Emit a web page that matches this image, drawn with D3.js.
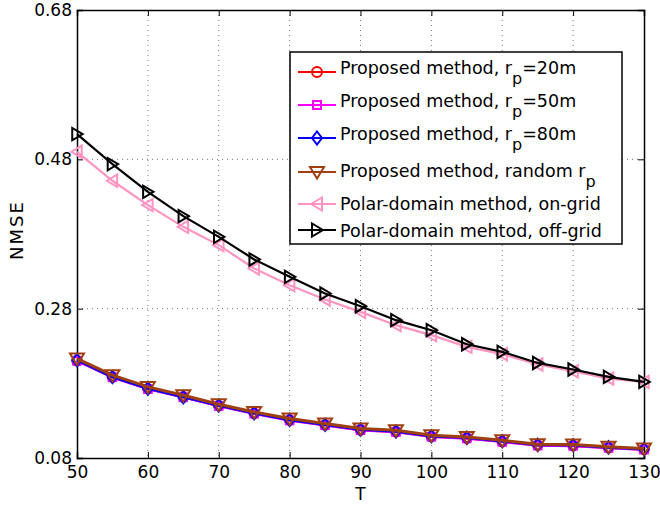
<!DOCTYPE html>
<html><head><meta charset="utf-8">
<script src="https://cdn.jsdelivr.net/npm/d3@7"></script>
<style>body{margin:0;background:#fff}svg{display:block;font-family:"DejaVu Sans",sans-serif}</style>
</head><body><svg id="c" width="660" height="505"></svg>
<script>
const T = [50,55,60,65,70,75,80,85,90,95,100,105,110,115,120,125,130];
const xTicks = [50,60,70,80,90,100,110,120,130];
const yTicks = [0.08,0.28,0.48,0.68];
const brownVals = [0.2132,0.1909,0.1752,0.1641,0.1520,0.1417,0.1328,0.1261,0.1194,0.1171,0.1104,0.1081,0.1037,0.0984,0.0980,0.0950,0.0927];
const redVals   = [0.2105,0.1885,0.1728,0.1618,0.1500,0.1398,0.1308,0.1243,0.1176,0.1152,0.1088,0.1066,0.1020,0.0970,0.0965,0.0938,0.0915];
const magVals   = [0.2100,0.1880,0.1722,0.1612,0.1496,0.1393,0.1303,0.1238,0.1172,0.1148,0.1083,0.1062,0.1016,0.0966,0.0962,0.0935,0.0912];
const blueVals  = [0.2110,0.1885,0.1730,0.1615,0.1503,0.1400,0.1310,0.1245,0.1180,0.1155,0.1092,0.1070,0.1025,0.0975,0.0970,0.0942,0.0918];
const pinkVals  = [0.4901,0.4513,0.4187,0.3896,0.3651,0.3338,0.3115,0.2923,0.2757,0.2579,0.2445,0.2288,0.2190,0.2052,0.1962,0.1864,0.1819];
const blackVals = [0.5138,0.4736,0.4365,0.4039,0.3762,0.3459,0.3226,0.3003,0.2833,0.2646,0.2512,0.2324,0.2221,0.2073,0.1985,0.1886,0.1819];
const labels = ["Proposed method, r","Proposed method, r","Proposed method, r","Proposed method, random r","Polar-domain method, on-grid","Polar-domain mehtod, off-grid"];
const subs = ["=20m","=50m","=80m","",null,null];

const series = [
  {vals:redVals,  color:"#ff0000", marker:"circle",  lw:2.5},
  {vals:magVals,  color:"#ff00ff", marker:"square",  lw:2.5},
  {vals:blueVals, color:"#0000ff", marker:"diamond", lw:2.5},
  {vals:brownVals,color:"#a0400f", marker:"down",    lw:3},
  {vals:pinkVals, color:"#ff94c2", marker:"left",    lw:2.2},
  {vals:blackVals,color:"#000000", marker:"right",   lw:2.2}
];

const L=77,R=644,Tp=10,B=458;
const svg=d3.select("#c");
const x=d3.scaleLinear().domain([50,130]).range([L,R]);
const y=d3.scaleLinear().domain([0.08,0.68]).range([B,Tp]);

// grid
const g=svg.append("g");
g.selectAll(".gx").data(xTicks.slice(1,-1)).enter().append("line")
 .attr("x1",d=>x(d)).attr("x2",d=>x(d)).attr("y1",Tp).attr("y2",B)
 .attr("stroke","#777").attr("stroke-width",1).attr("stroke-dasharray","1,4");
g.selectAll(".gy").data(yTicks.slice(1,-1)).enter().append("line")
 .attr("y1",d=>y(d)).attr("y2",d=>y(d)).attr("x1",L).attr("x2",R)
 .attr("stroke","#777").attr("stroke-width",1).attr("stroke-dasharray","1,4");

// axes
const xa=svg.append("g").attr("transform",`translate(0,${B})`)
 .call(d3.axisBottom(x).tickValues(xTicks).tickSize(-6).tickPadding(8).tickFormat(d3.format("d")));
const xt=svg.append("g").attr("transform",`translate(0,${Tp})`)
 .call(d3.axisTop(x).tickValues(xTicks).tickSize(-6).tickFormat(""));
const ya=svg.append("g").attr("transform",`translate(${L},0)`)
 .call(d3.axisLeft(y).tickValues(yTicks).tickSize(-6).tickPadding(5).tickFormat(d3.format(".2f")));
const yr=svg.append("g").attr("transform",`translate(${R},0)`)
 .call(d3.axisRight(y).tickValues(yTicks).tickSize(-6).tickFormat(""));
[xa,xt,ya,yr].forEach(a=>{a.selectAll("path").attr("stroke","#000").attr("stroke-width",1.5);
 a.selectAll("line").attr("stroke","#000").attr("stroke-width",1);
 a.selectAll("text").attr("font-size","17px").attr("fill","#000").attr("font-family","DejaVu Sans, sans-serif");});

svg.append("text").attr("x",(L+R)/2).attr("y",500).attr("text-anchor","middle")
 .attr("font-size","17px").text("T");
svg.append("text").attr("transform","translate(23,230) rotate(-90)").attr("text-anchor","middle")
 .attr("font-size","18px").attr("letter-spacing","2px").text("NMSE");

function marker(sel,type,color,s){
  let p;
  if(type==="circle") p=sel.append("circle").attr("r",s*0.5);
  else if(type==="square") p=sel.append("rect").attr("x",-s*0.4).attr("y",-s*0.4).attr("width",s*0.8).attr("height",s*0.8);
  else {
    let pts;
    if(type==="diamond") pts=[[0,-s*0.65],[s*0.5,0],[0,s*0.65],[-s*0.5,0]];
    if(type==="down") pts=[[-s*0.7,-s*0.5],[s*0.7,-s*0.5],[0,s*0.65]];
    if(type==="left") pts=[[-s*0.6,0],[s*0.5,-s*0.65],[s*0.5,s*0.65]];
    if(type==="right") pts=[[s*0.6,0],[-s*0.5,-s*0.65],[-s*0.5,s*0.65]];
    p=sel.append("polygon").attr("points",pts.map(q=>q.join(",")).join(" "));
  }
  p.attr("fill","none").attr("stroke",color).attr("stroke-width",2);
}

const line=d3.line().x((d,i)=>x(T[i])).y(d=>y(d));
const plot=svg.append("g");
series.forEach(s=>{
  plot.append("path").datum(s.vals).attr("d",line).attr("fill","none")
   .attr("stroke",s.color).attr("stroke-width",s.lw);
  s.vals.forEach((v,i)=>{
    const m=plot.append("g").attr("transform",`translate(${x(T[i])},${y(v)})`);
    marker(m,s.marker,s.color,s.marker==="down"?10:9.5);
  });
});

// legend
const lg=svg.append("g");
lg.append("rect").attr("x",290).attr("y",52).attr("width",332).attr("height",192)
 .attr("fill","#fff").attr("stroke","#000").attr("stroke-width",1.5);
const lineY=[72,105,138,172,204,230];
const baseY=[73.5,106.5,139.5,176.5,210,236.5];
series.forEach((s,i)=>{
  const yy=lineY[i];
  lg.append("line").attr("x1",298).attr("x2",336).attr("y1",yy).attr("y2",yy)
   .attr("stroke",s.color).attr("stroke-width",2.2);
  const m=lg.append("g").attr("transform",`translate(317,${yy})`);
  marker(m,s.marker,s.color,10);
  const t=lg.append("text").attr("x",340).attr("y",baseY[i]).attr("font-size","17.5px").attr("fill","#000");
  t.append("tspan").text(labels[i]);
  if(subs[i]!==null){
    t.append("tspan").attr("dy",10).attr("font-size","16px").text("p");
    if(subs[i]) t.append("tspan").attr("dy",-10).attr("font-size","17.5px").text(subs[i]);
  }
});
</script></body></html>
